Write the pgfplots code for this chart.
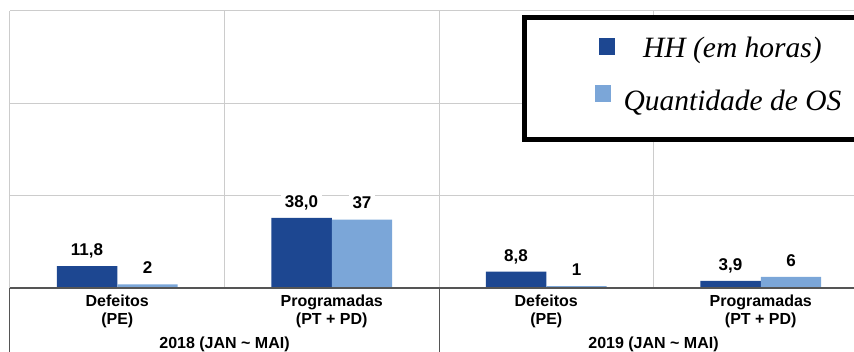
\documentclass[border=0pt]{standalone}
\usepackage{fontspec}
\setmainfont{Liberation Sans}
\newfontfamily\legfont{Liberation Serif}
\usepackage{pgfplots}
\pgfplotsset{compat=1.18}
\definecolor{darkb}{RGB}{29,71,145}
\definecolor{lightb}{RGB}{123,166,216}
\definecolor{gridc}{RGB}{204,204,204}
\definecolor{axisc}{RGB}{85,85,85}
\begin{document}
\begin{tikzpicture}
\useasboundingbox (0,0) rectangle (854pt,352pt);
\begin{axis}[
  at={(10pt,64pt)}, anchor=south west,
  scale only axis, width=858pt, height=277pt,
  xmin=-0.5, xmax=3.5, ymin=0, ymax=150,
  clip=false,
  ybar=0pt, bar width=0.282,
  axis line style={draw=none},
  major tick length=0pt,
  xtick={0,1,2,3},
  xticklabels={{Defeitos\\(PE)},{Programadas\\(PT + PD)},{Defeitos\\(PE)},{Programadas\\(PT + PD)}},
  xticklabel style={align=center, font=\fontsize{16}{18}\selectfont\bfseries, inner sep=0pt, yshift=-7pt},
  extra x ticks={-0.5,0.5,1.5,2.5},
  extra x tick labels={,,,},
  extra x tick style={grid=major},
  ytick={50,100,150},
  yticklabels={,,},
  ymajorgrids,
  grid style={gridc, line width=1pt},
  every node near coord/.append style={font=\fontsize{17}{19}\selectfont\bfseries, text=black, fill=white, inner xsep=4pt, inner ysep=1pt, text height=12.5pt, text depth=3pt, anchor=south, yshift=6.5pt},
  legend style={
    at={(0.5973,0.9838)}, anchor=north west,
    draw=black, line width=5pt, fill=white,
    inner xsep=70.5pt, inner ysep=17.5pt,
    row sep=16pt, column sep=2pt,
    font=\legfont\itshape\fontsize{29.5}{32}\selectfont,
    cells={anchor=base},
    nodes={inner sep=0pt, text height=22pt, text depth=12pt},
  },
]
\addplot[fill=darkb, draw=none,
  nodes near coords={\pgfmathprintnumber[fixed,fixed zerofill,precision=1,use comma,assume math mode=true]{\pgfplotspointmeta}},
  legend image code/.code={\fill[darkb] (4pt,2pt) rectangle (20pt,19pt);}
] coordinates {(0,11.8) (1,38.0) (2,8.8) (3,3.9)};
\addlegendentry{\makebox[230pt]{HH (em horas)}}
\addplot[fill=lightb, draw=none,
  nodes near coords={\pgfmathprintnumber[fixed,precision=0,assume math mode=true]{\pgfplotspointmeta}},
  legend image code/.code={\fill[lightb] (0pt,8pt) rectangle (16pt,25pt);}
] coordinates {(0,2) (1,37) (2,1) (3,6)};
\addlegendentry{\makebox[230pt]{Quantidade de OS}}
\draw[axisc, line width=1.3pt] (axis cs:-0.5,0) -- (axis cs:3.5,0);
\draw[axisc, line width=1pt] (axis cs:-0.5,0) -- ++(0pt,-70pt);
\draw[axisc, line width=1pt] (axis cs:1.5,0) -- ++(0pt,-70pt);
\draw[axisc, line width=1pt] (axis cs:3.5,0) -- ++(0pt,-70pt);
\node[anchor=base, font=\fontsize{16}{18}\selectfont\bfseries, yshift=-61pt] at (axis cs:0.5,0) {2018 (JAN \textasciitilde{} MAI)};
\node[anchor=base, font=\fontsize{16}{18}\selectfont\bfseries, yshift=-61pt] at (axis cs:2.5,0) {2019 (JAN \textasciitilde{} MAI)};
\end{axis}
\end{tikzpicture}
\end{document}
